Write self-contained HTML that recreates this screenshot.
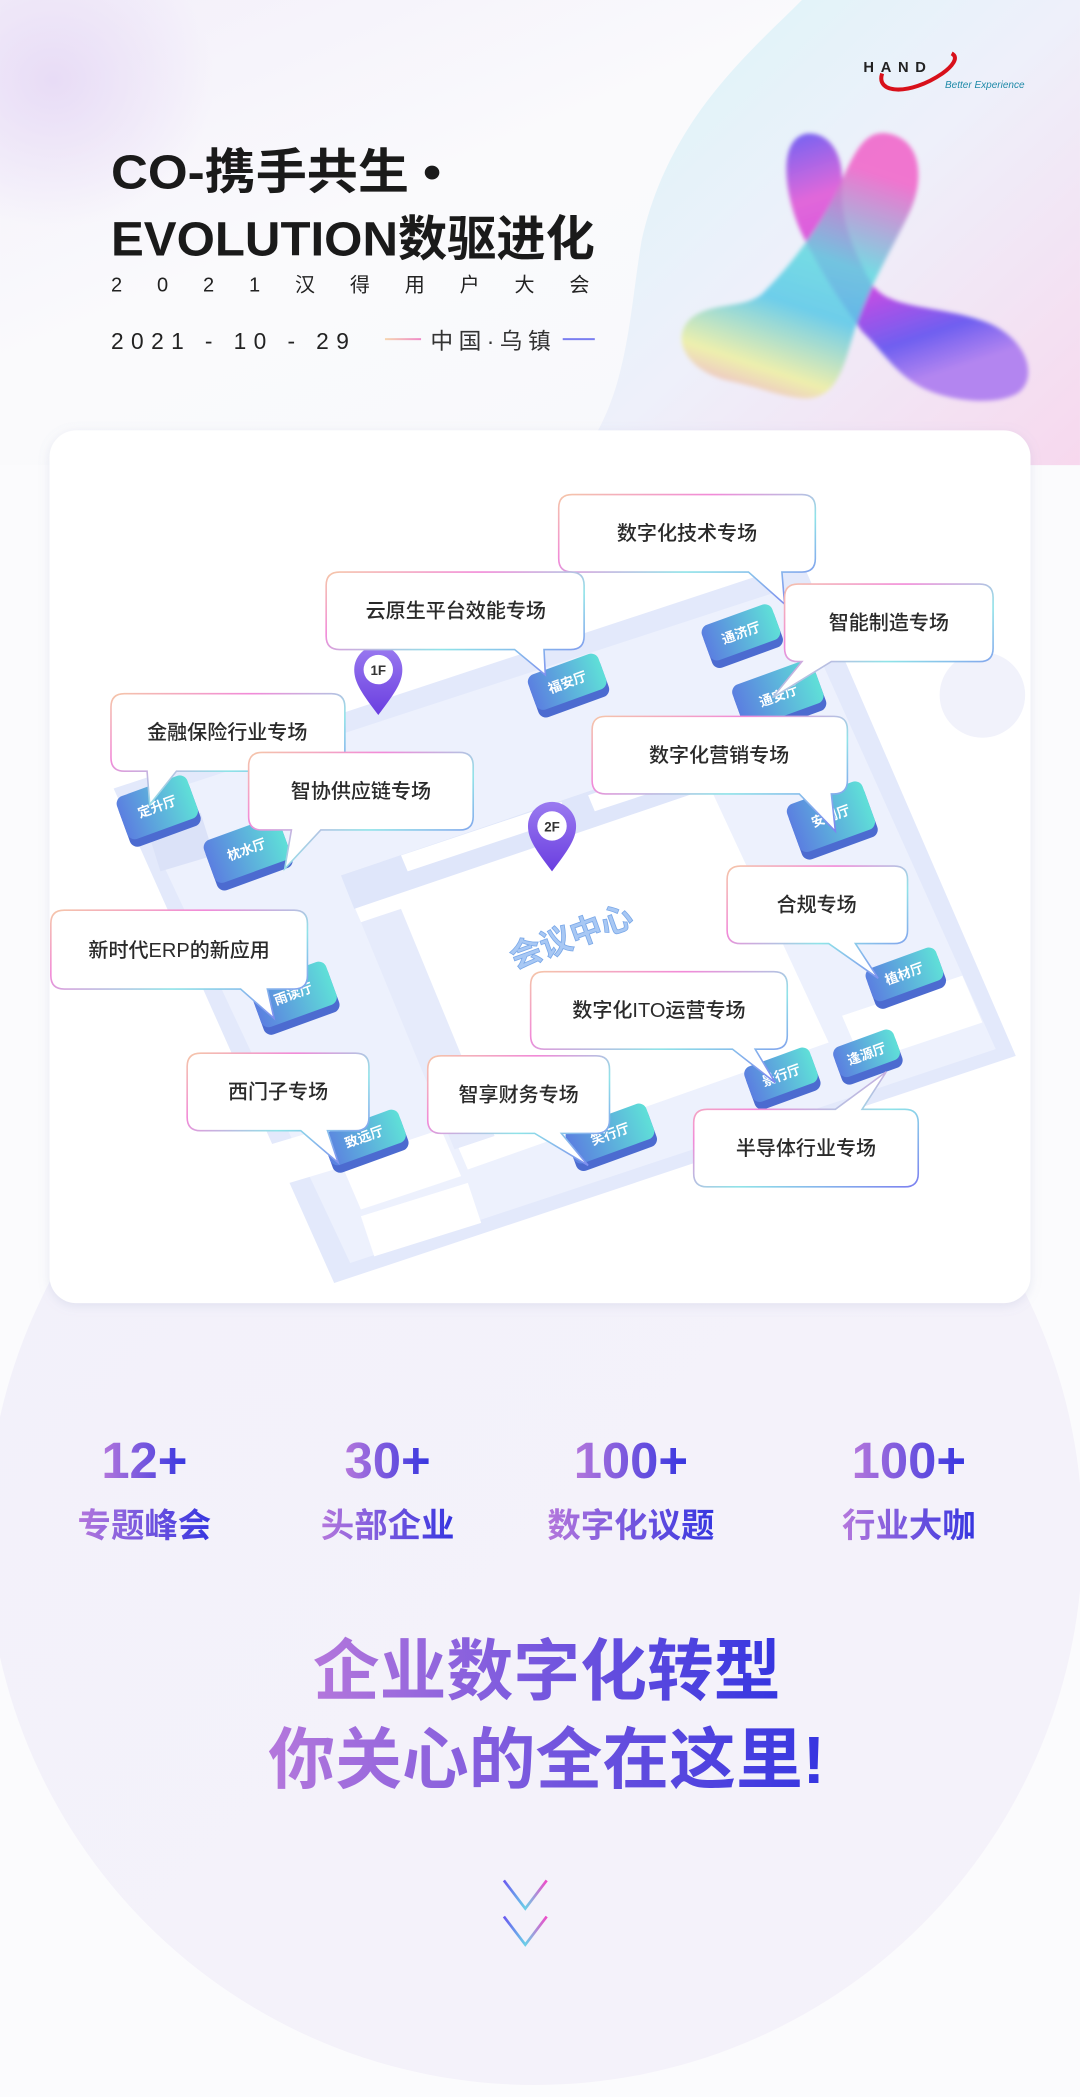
<!DOCTYPE html>
<html><head><meta charset="utf-8"><style>
html,body{margin:0;padding:0;background:#fafafc}
svg{display:block}
text{font-family:"Liberation Sans","Noto Sans CJK SC",sans-serif}
</style></head><body>
<svg width="1080" height="2097" viewBox="0 0 808 1569" xmlns="http://www.w3.org/2000/svg">
<defs>
<linearGradient id="bgTop" x1="0" y1="0" x2="1" y2="1"><stop offset="0" stop-color="#f3effa"/><stop offset="0.4" stop-color="#fafafc"/><stop offset="1" stop-color="#f7f8fb"/></linearGradient>
<linearGradient id="blobR" x1="0" y1="0" x2="1" y2="1"><stop offset="0" stop-color="#d9f6f8"/><stop offset="0.5" stop-color="#eef0fa"/><stop offset="1" stop-color="#f7d8ee"/></linearGradient>
<radialGradient id="glowL" cx="0.5" cy="0.5" r="0.5"><stop offset="0" stop-color="#e8dcf6"/><stop offset="1" stop-color="#e8dcf6" stop-opacity="0"/></radialGradient>
<linearGradient id="circ" x1="0" y1="0" x2="1" y2="1"><stop offset="0" stop-color="#f2f1fa"/><stop offset="1" stop-color="#f5f2fa"/></linearGradient>
<linearGradient id="bord" x1="0" y1="0" x2="1" y2="1"><stop offset="0" stop-color="#f5c6a8"/><stop offset="0.3" stop-color="#f28ad8"/><stop offset="0.6" stop-color="#8fe3e8"/><stop offset="1" stop-color="#7b7ef0"/></linearGradient>
<linearGradient id="hall" x1="0" y1="0" x2="1" y2="0"><stop offset="0" stop-color="#5b7fe0"/><stop offset="1" stop-color="#5fe0d8"/></linearGradient>
<linearGradient id="stat" x1="0" y1="0" x2="1" y2="0"><stop offset="0" stop-color="#b477dc"/><stop offset="1" stop-color="#3535e0"/></linearGradient>
<linearGradient id="pin" x1="0" y1="0" x2="0" y2="1"><stop offset="0" stop-color="#9a7af0"/><stop offset="1" stop-color="#6a3ee0"/></linearGradient>
<linearGradient id="bl1" x1="0" y1="0" x2="0.3" y2="1"><stop offset="0" stop-color="#6a5cf2"/><stop offset="0.25" stop-color="#e060d8"/><stop offset="0.6" stop-color="#d040e0"/><stop offset="0.85" stop-color="#6858f0"/><stop offset="1" stop-color="#b080f0"/></linearGradient>
<linearGradient id="bl2" x1="0.3" y1="0" x2="0" y2="1"><stop offset="0" stop-color="#f060c8"/><stop offset="0.35" stop-color="#60d8e0"/><stop offset="0.55" stop-color="#58c8e8"/><stop offset="0.8" stop-color="#eef0a0"/><stop offset="1" stop-color="#f090d8"/></linearGradient>
<linearGradient id="lnP" x1="0" x2="1"><stop offset="0" stop-color="#f5d6b0"/><stop offset="1" stop-color="#f08ac8"/></linearGradient>
<linearGradient id="chev" x1="0" x2="1"><stop offset="0" stop-color="#6a5af0"/><stop offset="0.5" stop-color="#6ad0e8"/><stop offset="1" stop-color="#f04ac8"/></linearGradient>
<filter id="blur"><feGaussianBlur stdDeviation="1.5"/></filter>
<filter id="sh" x="-20%" y="-20%" width="140%" height="140%"><feDropShadow dx="0" dy="2" stdDeviation="4" flood-color="#8890c0" flood-opacity="0.18"/></filter>
</defs>

<rect width="808" height="1569" fill="#fbfbfd"/>
<rect width="808" height="348" fill="url(#bgTop)"/>
<ellipse cx="40" cy="60" rx="120" ry="110" fill="url(#glowL)"/>
<path d="M600,0 H808 V348 H430 C470,300 470,240 480,180 C500,90 560,40 600,0Z" fill="url(#blobR)"/>
<circle cx="400" cy="1150" r="410" fill="url(#circ)"/>

<text x="83" y="141" font-size="36" font-weight="700" fill="#1a1a1a" textLength="247" lengthAdjust="spacingAndGlyphs">CO-携手共生 •</text>
<text x="83" y="191" font-size="36" font-weight="700" fill="#1a1a1a" textLength="362" lengthAdjust="spacingAndGlyphs">EVOLUTION数驱进化</text>
<text x="83" y="218" font-size="15" fill="#222" textLength="358" lengthAdjust="spacing">2021汉得用户大会</text>
<text x="83" y="261" font-size="17" fill="#222" textLength="178" lengthAdjust="spacing">2021 - 10 - 29</text>
<rect x="288" y="253" width="27" height="1.5" fill="url(#lnP)"/>
<text x="322" y="261" font-size="17" fill="#333" textLength="90" lengthAdjust="spacing">中国·乌镇</text>
<rect x="421" y="253" width="24" height="1.5" fill="#7a7ef0"/>

<path d="M660,55 C655,70 680,72 705,55 C712,50 718,43 712,40" fill="none" stroke="#d8101a" stroke-width="3"/>
<text x="646" y="54" font-size="11" font-weight="700" fill="#222" letter-spacing="5">HAND</text>
<text x="707" y="66" font-size="7.5" font-style="italic" fill="#1f8aa8">Better Experience</text>

<!-- blob figure -->
<g filter="url(#blur)">
<path d="M603,100 C620,98 632,115 630,140 C628,165 640,190 652,212 C665,232 700,228 735,240 C770,252 778,285 760,295 C740,305 705,298 690,290 C670,280 660,262 645,248 C628,225 612,200 600,175 C588,150 580,105 603,100Z" fill="url(#bl1)" opacity="0.95"/>
<path d="M665,100 C690,105 692,135 680,160 C668,185 650,215 640,245 C632,270 628,300 600,298 C580,296 570,290 545,285 C515,278 502,255 515,240 C530,225 555,232 570,220 C590,200 610,175 625,145 C638,118 645,96 665,100Z" fill="url(#bl2)" opacity="0.85"/>
</g>

<rect x="37" y="322" width="734" height="653" rx="20" fill="#ffffff" filter="url(#sh)"/>
<circle cx="735" cy="520" r="32" fill="#f1f2fb"/>

<g>
<polygon points="85,590 600,420 760,790 250,960" fill="#e3e9fb"/>
<polygon points="100,600 590,440 745,785 262,945" fill="#edf1fd"/>
<polygon points="255,655 520,565 620,780 350,875" fill="#ffffff"/>
<polygon points="255,655 520,565 530,590 265,680" fill="#dfe6fa"/>
<polygon points="270,690 300,680 370,850 340,860" fill="#e6ebfb"/>
<polygon points="300,640 420,600 425,612 305,652" fill="#fff"/>
<polygon points="440,595 510,572 515,584 445,607" fill="#fff"/>
<polygon points="255,870 330,845 345,880 270,905" fill="#fff"/>
<polygon points="270,910 350,885 360,915 280,940" fill="#fff"/>
<polygon points="630,760 720,730 735,765 645,795" fill="#fff"/>
<polygon points="640,510 680,500 690,525 650,535" fill="#fff"/>
<polygon points="110,620 150,608 160,640 120,652" fill="#dbe2f8"/>
<polygon points="190,860 240,845 250,875 200,890" fill="#fff"/>
</g>

<g font-size="10" font-weight="700" fill="#fff" text-anchor="middle">
<g transform="translate(555,475) rotate(-20)"><rect x="-28" y="-12" width="56" height="30" rx="6" fill="#4c6bd0"/><rect x="-28" y="-16" width="56" height="28" rx="6" fill="url(#hall)"/><text y="2">通济厅</text></g>
<g transform="translate(425,512) rotate(-20)"><rect x="-28" y="-12" width="56" height="30" rx="6" fill="#4c6bd0"/><rect x="-28" y="-16" width="56" height="28" rx="6" fill="url(#hall)"/><text y="2">福安厅</text></g>
<g transform="translate(583,522) rotate(-20)"><rect x="-32" y="-16" width="64" height="36" rx="6" fill="#4c6bd0"/><rect x="-32" y="-20" width="64" height="34" rx="6" fill="url(#hall)"/><text y="2">通安厅</text></g>
<g transform="translate(118,605) rotate(-20)"><rect x="-28" y="-14" width="56" height="36" rx="6" fill="#4c6bd0"/><rect x="-28" y="-18" width="56" height="34" rx="6" fill="url(#hall)"/><text y="2">定升厅</text></g>
<g transform="translate(185,637) rotate(-20)"><rect x="-30" y="-14" width="60" height="36" rx="6" fill="#4c6bd0"/><rect x="-30" y="-18" width="60" height="34" rx="6" fill="url(#hall)"/><text y="2">枕水厅</text></g>
<g transform="translate(622,612) rotate(-20)"><rect x="-30" y="-16" width="60" height="40" rx="6" fill="#4c6bd0"/><rect x="-30" y="-20" width="60" height="38" rx="6" fill="url(#hall)"/><text y="2">安澜厅</text></g>
<g transform="translate(220,745) rotate(-20)"><rect x="-30" y="-14" width="60" height="36" rx="6" fill="#4c6bd0"/><rect x="-30" y="-18" width="60" height="34" rx="6" fill="url(#hall)"/><text y="2">雨读厅</text></g>
<g transform="translate(677,730) rotate(-20)"><rect x="-28" y="-10" width="56" height="28" rx="6" fill="#4c6bd0"/><rect x="-28" y="-14" width="56" height="26" rx="6" fill="url(#hall)"/><text y="2">植材厅</text></g>
<g transform="translate(585,806) rotate(-20)"><rect x="-26" y="-12" width="52" height="30" rx="6" fill="#4c6bd0"/><rect x="-26" y="-16" width="52" height="28" rx="6" fill="url(#hall)"/><text y="2">景行厅</text></g>
<g transform="translate(649,790) rotate(-20)"><rect x="-24" y="-10" width="48" height="26" rx="6" fill="#4c6bd0"/><rect x="-24" y="-14" width="48" height="24" rx="6" fill="url(#hall)"/><text y="2">逢源厅</text></g>
<g transform="translate(273,852) rotate(-20)"><rect x="-30" y="-10" width="60" height="28" rx="6" fill="#4c6bd0"/><rect x="-30" y="-14" width="60" height="26" rx="6" fill="url(#hall)"/><text y="2">致远厅</text></g>
<g transform="translate(457,850) rotate(-20)"><rect x="-32" y="-12" width="64" height="30" rx="6" fill="#4c6bd0"/><rect x="-32" y="-16" width="64" height="28" rx="6" fill="url(#hall)"/><text y="2">笑行厅</text></g>
</g>

<text x="0" y="0" transform="translate(385,725) rotate(-20)" font-size="24" font-weight="700" fill="#a8c8f4" stroke="#7aa8e8" stroke-width="0.6">会议中心</text>

<g transform="translate(283,535)"><path d="M0,0 C-12,-16 -18,-24 -18,-34 A18,18 0 1 1 18,-34 C18,-24 12,-16 0,0Z" fill="url(#pin)"/><circle cx="0" cy="-34" r="11" fill="#fff"/><text x="0" y="-30" font-size="10" font-weight="700" text-anchor="middle" fill="#333">1F</text></g>
<g transform="translate(413,652)"><path d="M0,0 C-12,-16 -18,-24 -18,-34 A18,18 0 1 1 18,-34 C18,-24 12,-16 0,0Z" fill="url(#pin)"/><circle cx="0" cy="-34" r="11" fill="#fff"/><text x="0" y="-30" font-size="10" font-weight="700" text-anchor="middle" fill="#333">2F</text></g>

<g fill="#fff" stroke="url(#bord)" stroke-width="1.2">
<path d="M428,370 H600 Q610,370 610,380 V418 Q610,428 600,428 H585 L587,452 L560,428 H428 Q418,428 418,418 V380 Q418,370 428,370Z"/>
<path d="M254,428 H427 Q437,428 437,438 V476 Q437,486 427,486 H407 L408,505 L385,486 H254 Q244,486 244,476 V438 Q244,428 254,428Z"/>
<path d="M597,437 H733 Q743,437 743,447 V485 Q743,495 733,495 H622 L578,522 L600,495 H597 Q587,495 587,485 V447 Q587,437 597,437Z"/>
<path d="M93,519 H248 Q258,519 258,529 V567 Q258,577 248,577 H132 L112,602 L110,577 H93 Q83,577 83,567 V529 Q83,519 93,519Z"/>
<path d="M196,563 H344 Q354,563 354,573 V611 Q354,621 344,621 H240 L213,650 L218,621 H196 Q186,621 186,611 V573 Q186,563 196,563Z"/>
<path d="M453,536 H624 Q634,536 634,546 V584 Q634,594 624,594 H622 L625,622 L598,594 H453 Q443,594 443,584 V546 Q443,536 453,536Z"/>
<path d="M554,648 H669 Q679,648 679,658 V696 Q679,706 669,706 H640 L657,732 L620,706 H554 Q544,706 544,696 V658 Q544,648 554,648Z"/>
<path d="M48,681 H220 Q230,681 230,691 V730 Q230,740 220,740 H200 L205,762 L180,740 H48 Q38,740 38,730 V691 Q38,681 48,681Z"/>
<path d="M407,727 H579 Q589,727 589,737 V775 Q589,785 579,785 H565 L580,810 L548,785 H407 Q397,785 397,775 V737 Q397,727 407,727Z"/>
<path d="M150,788 H266 Q276,788 276,798 V836 Q276,846 266,846 H245 L253,870 L225,846 H150 Q140,846 140,836 V798 Q140,788 150,788Z"/>
<path d="M330,790 H446 Q456,790 456,800 V838 Q456,848 446,848 H420 L440,872 L400,848 H330 Q320,848 320,838 V800 Q320,790 330,790Z"/>
<path d="M529,830 H625 L663,802 L645,830 H677 Q687,830 687,840 V878 Q687,888 677,888 H529 Q519,888 519,878 V840 Q519,830 529,830Z"/>
</g>
<g font-size="15" fill="#2a2a2a" text-anchor="middle" font-weight="500">
<text x="514" y="404">数字化技术专场</text>
<text x="341" y="462">云原生平台效能专场</text>
<text x="665" y="471">智能制造专场</text>
<text x="170" y="553">金融保险行业专场</text>
<text x="270" y="597">智协供应链专场</text>
<text x="538" y="570">数字化营销专场</text>
<text x="611" y="682">合规专场</text>
<text x="134" y="716">新时代ERP的新应用</text>
<text x="493" y="761">数字化ITO运营专场</text>
<text x="208" y="822">西门子专场</text>
<text x="388" y="824">智享财务专场</text>
<text x="603" y="864">半导体行业专场</text>
</g>

<g font-weight="700" text-anchor="middle" fill="url(#stat)">
<text x="108" y="1106" font-size="38">12+</text>
<text x="290" y="1106" font-size="38">30+</text>
<text x="472" y="1106" font-size="38">100+</text>
<text x="680" y="1106" font-size="38">100+</text>
<text x="108" y="1150" font-size="25">专题峰会</text>
<text x="290" y="1150" font-size="25">头部企业</text>
<text x="472" y="1150" font-size="25">数字化议题</text>
<text x="680" y="1150" font-size="25">行业大咖</text>
</g>
<g font-weight="700" text-anchor="middle" fill="url(#stat)">
<text x="409" y="1268" font-size="50">企业数字化转型</text>
<text x="409" y="1334" font-size="50">你关心的全在这里!</text>
</g>

<path d="M377,1407 L393,1428 L409,1407" fill="none" stroke="url(#chev)" stroke-width="2"/>
<path d="M377,1434 L393,1455 L409,1434" fill="none" stroke="url(#chev)" stroke-width="2"/>
</svg>
</body></html>
